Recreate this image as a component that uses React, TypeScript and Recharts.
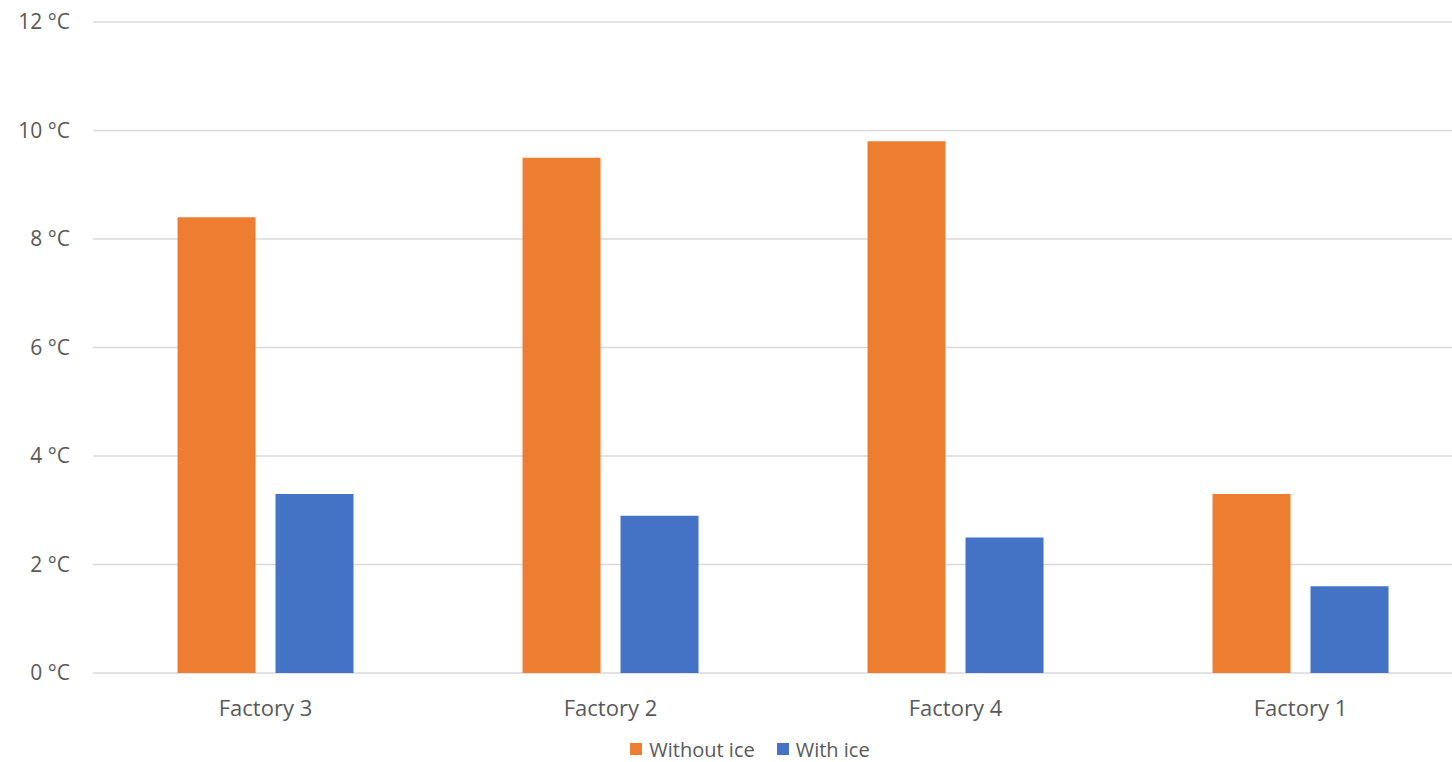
import React from "react";
import { BarChart, Bar, XAxis, YAxis, CartesianGrid, Legend } from "recharts";

const categories = ["Factory 3", "Factory 2", "Factory 4", "Factory 1"];
const withoutIce = [8.4, 9.5, 9.8, 3.3];
const withIce = [3.3, 2.9, 2.5, 1.6];
const yTicks = [0, 2, 4, 6, 8, 10, 12];

const seriesNames = ["Without ice", "With ice"];
const seriesColors = ["#ED7D31", "#4472C4"];

const data = categories.map((name, i) => ({
  name,
  without: withoutIce[i],
  with: withIce[i],
}));

const FONT = "'Open Sans', 'Noto Sans', sans-serif";
const TEXT = "#595959";

function LegendContent() {
  return (
    <div
      style={{
        height: 26,
        display: "flex",
        justifyContent: "center",
        alignItems: "center",
        paddingLeft: 27,
        fontFamily: FONT,
        fontSize: 20,
        color: TEXT,
      }}
    >
      {seriesNames.map((n, i) => (
        <div key={n} style={{ display: "flex", alignItems: "center", marginRight: i === 0 ? 22 : 0 }}>
          <span
            style={{
              display: "inline-block",
              width: 12,
              height: 12,
              background: seriesColors[i],
              marginRight: 7,
            }}
          />
          <span>{n}</span>
        </div>
      ))}
    </div>
  );
}

export default function App() {
  return (
    <div
      style={{
        position: "fixed",
        left: 0,
        top: 0,
        width: 1452,
        height: 762,
        overflow: "hidden",
        background: "#fff",
        fontFamily: FONT,
      }}
    >
      <BarChart
        width={1475}
        height={762}
        data={data}
        margin={{ top: 22, right: 2, bottom: 0, left: 0 }}
        barGap={20}
        barCategoryGap="24.5%"
      >
        <CartesianGrid vertical={false} stroke="#D9D9D9" strokeWidth={1.3} />
        <XAxis
          dataKey="name"
          axisLine={false}
          tickLine={false}
          tick={{ fill: TEXT, fontSize: 22, fontFamily: FONT }}
          tickMargin={21}
          height={63}
        />
        <YAxis
          domain={[0, 12]}
          ticks={yTicks}
          axisLine={false}
          tickLine={false}
          width={93}
          tickMargin={17}
          tickFormatter={(v) => `${v} °C`}
          tick={{ fill: TEXT, fontSize: 21, fontFamily: FONT }}
        />
        <Legend verticalAlign="bottom" height={26} content={<LegendContent />} />
        <Bar dataKey="without" name="Without ice" fill="#ED7D31" isAnimationActive={false} />
        <Bar dataKey="with" name="With ice" fill="#4472C4" isAnimationActive={false} />
      </BarChart>
    </div>
  );
}
